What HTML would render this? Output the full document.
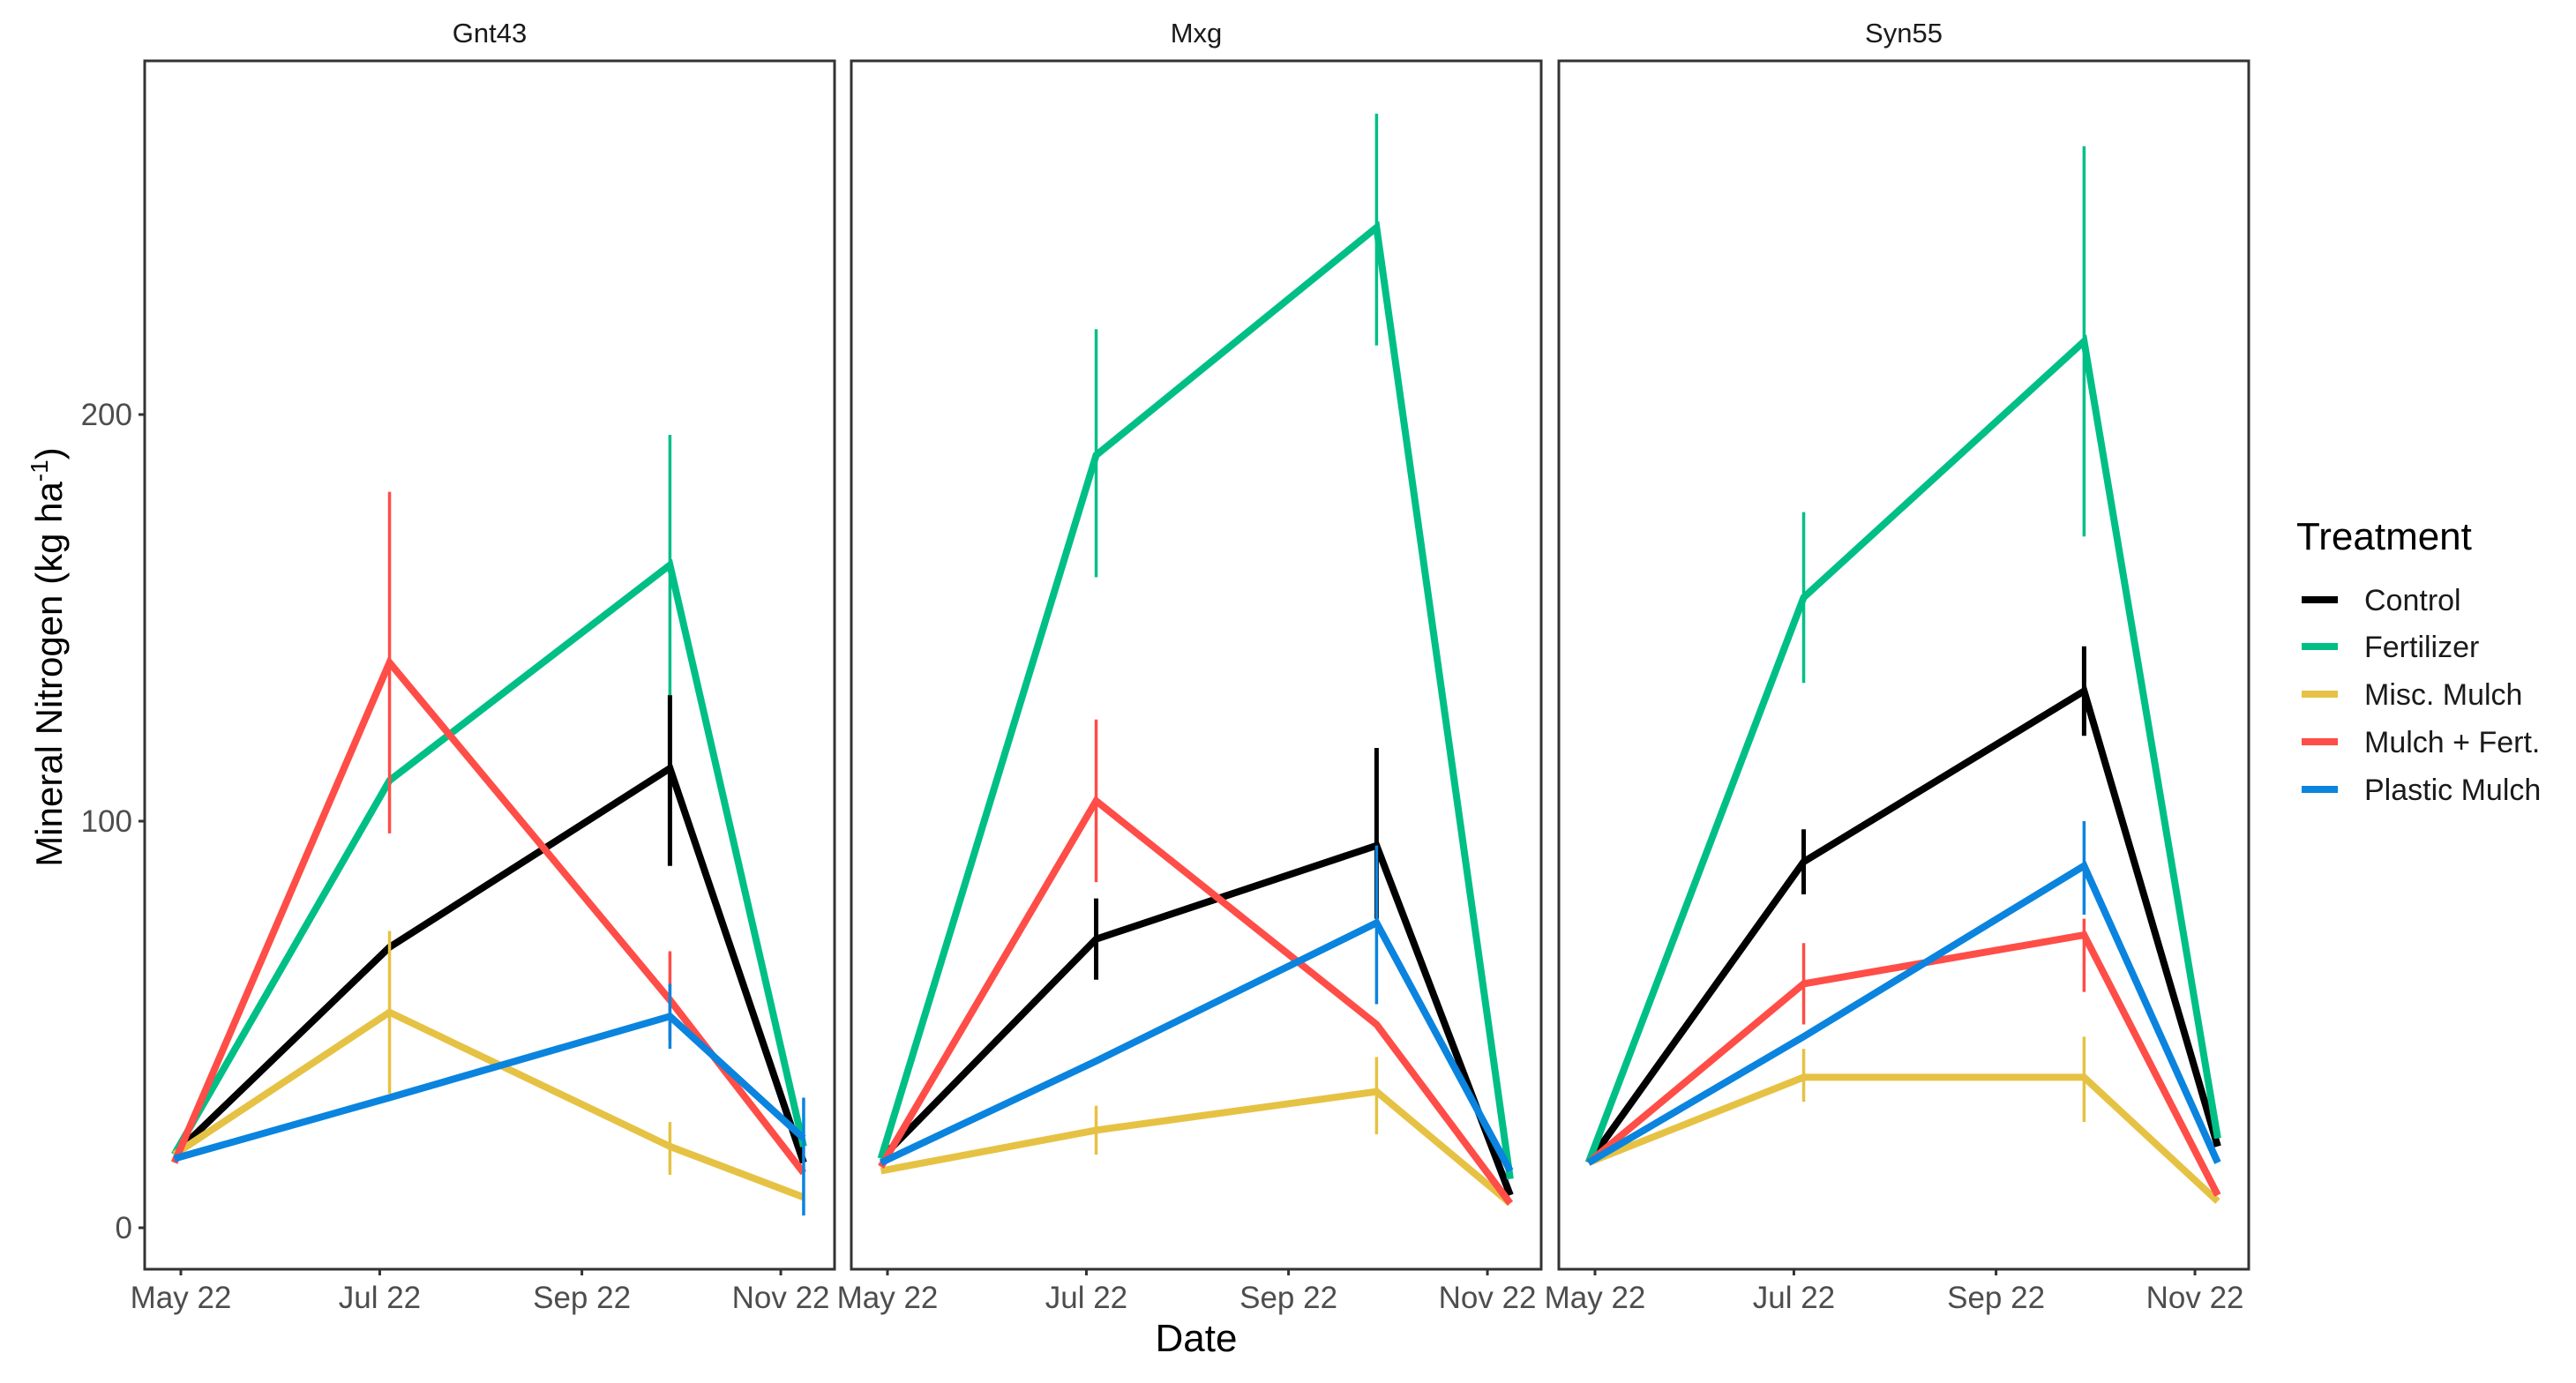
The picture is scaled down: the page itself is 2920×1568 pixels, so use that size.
<!DOCTYPE html>
<html><head><meta charset="utf-8"><style>
html,body{margin:0;padding:0;background:#fff;}
svg{display:block;font-family:"Liberation Sans",Arial,sans-serif;}
</style></head><body>
<svg id="chart" width="2920" height="1568" viewBox="0 0 2920 1568" xmlns="http://www.w3.org/2000/svg"></svg>
<script>
// ---- data ----
const facets = ["Gnt43", "Mxg", "Syn55"];
const treatments = ["Control", "Fertilizer", "Misc. Mulch", "Mulch + Fert.", "Plastic Mulch"];
const sampleDates = ["2022-04-29", "2022-07-04", "2022-09-28", "2022-11-08"];
const xTickDates = ["2022-05-01", "2022-07-01", "2022-09-01", "2022-11-01"];
const xTickLabels = ["May 22", "Jul 22", "Sep 22", "Nov 22"];
const yTicks = [0, 100, 200];
const gntMeans = [[18,69,113,16],[18,110,163,20],[18,53,20,7.5],[16,139,56,13.5],[17,32,52,22]];
const gntLow   = [[18,69,89,16],[18,110,131,20],[18,33,13,7.5],[16,97,46,13.5],[17,32,44,3]];
const gntHigh  = [[18,69,131,16],[18,110,195,20],[18,73,26,7.5],[16,181,68,13.5],[17,32,60,32]];
const mxgMeans = [[17,71,94,8],[17,190,246,12],[14,24,33.5,6],[15,105,50,6],[16,41,75,14]];
const mxgLow   = [[17,61,76,8],[17,160,217,12],[14,18,23,6],[15,85,50,6],[16,41,55,14]];
const mxgHigh  = [[17,81,118,8],[17,221,274,12],[14,30,42,6],[15,125,50,6],[16,41,94,14]];
const synMeans = [[16,90,132,20],[16,155,218,22],[16,37,37,6.5],[16,60,72,8],[16,47,89,16]];
const synLow   = [[16,82,121,20],[16,134,170,22],[16,31,26,6.5],[16,50,58,8],[16,47,77,16]];
const synHigh  = [[16,98,143,20],[16,176,266,22],[16,44,47,6.5],[16,70,76,8],[16,47,100,16]];
const means = [gntMeans, mxgMeans, synMeans];
const lows = [gntLow, mxgLow, synLow];
const highs = [gntHigh, mxgHigh, synHigh];
const colors = ["#000000", "#00BF86", "#E6C244", "#FF4D47", "#0A84DE"];

// ---- layout ----
const NS = "http://www.w3.org/2000/svg";
const svg = document.getElementById("chart");
const panelLefts = [164, 965, 1767];
const panelW = 782, panelTop = 69, panelBottom = 1439;
const origin = Date.UTC(2022, 4, 1);
function days(s){const p=s.split("-");return (Date.UTC(+p[0],+p[1]-1,+p[2])-origin)/86400000;}
function xScale(p, s){return panelLefts[p] + 41 + days(s)*3.696;}
function yScale(v){return 1392 - v*4.61;}
function mk(tag, attrs, parent){const e=document.createElementNS(NS,tag);for(const k in attrs)e.setAttribute(k,attrs[k]);(parent||svg).appendChild(e);return e;}

facets.forEach((f, p) => {
  const g = mk("g", {});
  
  
  const L = panelLefts[p];
  const bg = mk("rect", {x:L, y:panelTop, width:panelW, height:panelBottom-panelTop, fill:"#fff", stroke:"none"}, g);
  
  
  const st = mk("text", {x:L+panelW/2, y:48, "font-size":31, "text-anchor":"middle", fill:"#1a1a1a"}, g);
  st.textContent = f;
  
  
  xTickDates.forEach((d, i) => {
    const x = xScale(p, d);
    const t = mk("line", {x1:x, x2:x, y1:panelBottom, y2:panelBottom+7, stroke:"#333", "stroke-width":3}, g);
    
    
    const lb = mk("text", {x:x, y:1483, "font-size":35, "text-anchor":"middle", fill:"#4d4d4d"}, g);
    lb.textContent = xTickLabels[i];
    
    
  });
  treatments.forEach((tr, s) => {
    const sg = mk("g", {}, g);
    
    
    sampleDates.forEach((d, i) => {
      const x = xScale(p, d);
      const eb = mk("line", {x1:x, x2:x, y1:yScale(lows[p][s][i]), y2:yScale(highs[p][s][i]), stroke:colors[s], "stroke-width": s===0?5:3.5}, sg);
      
      
    });
    const pts = sampleDates.map((d, i) => xScale(p, d).toFixed(1) + "," + yScale(means[p][s][i]).toFixed(1)).join(" ");
    const pl = mk("polyline", {points:pts, fill:"none", stroke:colors[s], "stroke-width":8, "stroke-linejoin":"miter"}, sg);
    
    
  });
  const bd = mk("rect", {x:L, y:panelTop, width:panelW, height:panelBottom-panelTop, fill:"none", stroke:"#333", "stroke-width":3}, g);
  
  
});

yTicks.forEach(v => {
  const y = yScale(v);
  const t = mk("line", {x1:157, x2:164, y1:y, y2:y, stroke:"#333", "stroke-width":3});
  
  
  const lb = mk("text", {x:150, y:y+12, "font-size":35, "text-anchor":"end", fill:"#4d4d4d"});
  lb.textContent = v;
  
  
});

const xt = mk("text", {x:1356, y:1532, "font-size":44, "text-anchor":"middle", fill:"#000"});
xt.textContent = "Date";


const yt = mk("text", {transform:"translate(70,745) rotate(-90)", "font-size":42, "text-anchor":"middle", fill:"#000"});
yt.innerHTML = 'Mineral Nitrogen (kg ha<tspan dy="-16" font-size="28">-1</tspan><tspan dy="16">)</tspan>';


const lt = mk("text", {x:2603, y:623, "font-size":44, fill:"#000"});
lt.textContent = "Treatment";


const legendYs = [680, 733, 787, 841, 895];
treatments.forEach((tr, i) => {
  const k = mk("line", {x1:2609, x2:2650, y1:legendYs[i], y2:legendYs[i], stroke:colors[i], "stroke-width":8});
  
  
  const t = mk("text", {x:2680, y:legendYs[i]+12, "font-size":34, fill:"#1a1a1a"});
  t.textContent = tr;
  
  
});
</script>
</body></html>
